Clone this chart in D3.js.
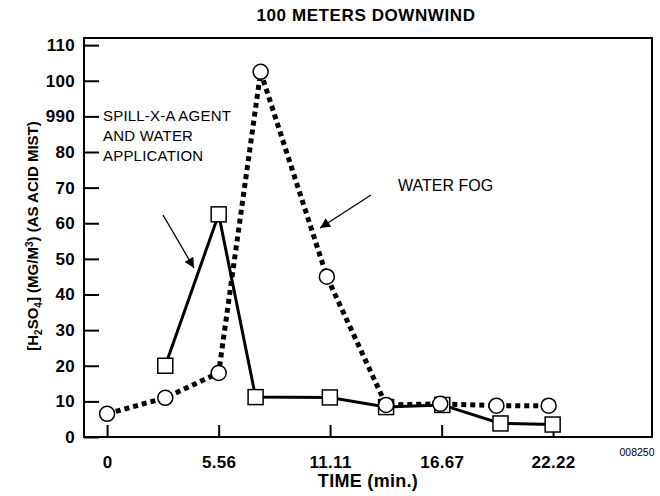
<!DOCTYPE html>
<html>
<head>
<meta charset="utf-8">
<script src="https://cdn.jsdelivr.net/npm/d3@7"></script>
<style>
  body { margin: 0; background: #fff; }
  text { font-family: "Liberation Sans", Arial, sans-serif; }
</style>
</head>
<body>
<div id="svgContainer"></div>
<script>
var width = 660,
    height = 496;

// time (min.)
var fogTimes = [0, 2.9, 5.56, 7.65, 10.95, 13.9, 16.6, 19.4, 22.0];
var fogValues = [6.5, 11, 18, 102.5, 45, 9, 9.3, 8.8, 8.8];

var spillTimes = [2.9, 5.56, 7.4, 11.1, 13.9, 16.7, 19.6, 22.2];
var spillValues = [20, 62.5, 11.2, 11.1, 8.4, 9, 3.8, 3.5];

var xTicks = [0, 5.56, 11.11, 16.67, 22.22];
var xTickLabels = ["0", "5.56", "11.11", "16.67", "22.22"];
var yTicks = [0, 10, 20, 30, 40, 50, 60, 70, 80, 90, 100, 110];
var yTickLabels = ["0", "10", "20", "30", "40", "50", "60", "70", "80", "990", "100", "110"];

var plotLeft = 84, plotRight = 652, plotTop = 38, plotBottom = 437;

var svg = d3.select("#svgContainer").append("svg")
    .attr("width", width)
    .attr("height", height)
    .style("display", "block");

var x = d3.scaleLinear().domain([-1.15, 27.15]).range([plotLeft, plotRight]);
var y = d3.scaleLinear().domain([0, 112]).range([plotBottom, plotTop]);

svg.append("defs").append("marker")
    .attr("id", "head")
    .attr("viewBox", "0 0 10 10")
    .attr("refX", 10)
    .attr("refY", 5)
    .attr("markerWidth", 12)
    .attr("markerHeight", 10)
    .attr("markerUnits", "userSpaceOnUse")
    .attr("orient", "auto")
    .append("path")
    .attr("d", "M0,0 L10,5 L0,10 Z")
    .attr("fill", "#000");

// title
svg.append("text")
    .attr("x", 366)
    .attr("y", 21)
    .attr("text-anchor", "middle")
    .attr("font-size", 17)
    .attr("font-weight", "bold")
    .attr("letter-spacing", 0.6)
    .text("100 METERS DOWNWIND");

// axes
var xAxis = svg.append("g")
    .attr("transform", "translate(0," + plotBottom + ")")
    .call(d3.axisBottom(x)
        .tickValues(xTicks)
        .tickFormat((d, i) => xTickLabels[i])
        .tickSizeInner(-12)
        .tickSizeOuter(0)
        .tickPadding(19));

var yAxis = svg.append("g")
    .attr("transform", "translate(" + plotLeft + ",0)")
    .call(d3.axisLeft(y)
        .tickValues(yTicks)
        .tickFormat((d, i) => yTickLabels[i])
        .tickSizeInner(-15)
        .tickSizeOuter(0)
        .tickPadding(9));

[xAxis, yAxis].forEach(a => {
    a.select(".domain").remove();
    a.selectAll("line").attr("stroke", "#000").attr("stroke-width", 2);
    a.selectAll("text")
        .attr("fill", "#000")
        .attr("font-size", 17)
        .attr("font-weight", "bold")
        .attr("letter-spacing", 0.3)
        .style("font-family", "'Liberation Sans', Arial, sans-serif");
});

svg.append("rect")
    .attr("x", plotLeft)
    .attr("y", plotTop)
    .attr("width", plotRight - plotLeft)
    .attr("height", plotBottom - plotTop)
    .attr("fill", "none")
    .attr("stroke", "#000")
    .attr("stroke-width", 2);

// axis titles
svg.append("text")
    .attr("x", 368)
    .attr("y", 487)
    .attr("text-anchor", "middle")
    .attr("font-size", 18)
    .attr("font-weight", "bold")
    .attr("letter-spacing", 0.3)
    .text("TIME (min.)");

var yl = svg.append("text")
    .attr("transform", "translate(38,236) rotate(-90)")
    .attr("text-anchor", "middle")
    .attr("font-size", 15)
    .attr("font-weight", "bold");
yl.append("tspan").text("[H");
yl.append("tspan").attr("font-size", 10).attr("dy", 4).text("2");
yl.append("tspan").attr("dy", -4).text("SO");
yl.append("tspan").attr("font-size", 10).attr("dy", 4).text("4");
yl.append("tspan").attr("dy", -4).text("] (MG/M");
yl.append("tspan").attr("font-size", 10).attr("dy", -5).text("3");
yl.append("tspan").attr("dy", 5).text(") (AS ACID MIST)");

svg.append("text")
    .attr("x", 637)
    .attr("y", 456)
    .attr("text-anchor", "middle")
    .attr("font-size", 10.5)
    .text("008250");

// series
var fog = fogTimes.map((t, i) => ({ t: t, v: fogValues[i] }));
var spill = spillTimes.map((t, i) => ({ t: t, v: spillValues[i] }));

var line = d3.line().x(d => x(d.t)).y(d => y(d.v));

svg.append("path")
    .datum(fog)
    .attr("d", line)
    .attr("fill", "none")
    .attr("stroke", "#000")
    .attr("stroke-width", 5)
    .attr("stroke-dasharray", "5,4");

svg.append("path")
    .datum(spill)
    .attr("d", line)
    .attr("fill", "none")
    .attr("stroke", "#000")
    .attr("stroke-width", 3);

svg.append("g")
    .selectAll("rect")
    .data(spill)
    .enter().append("rect")
    .attr("x", d => x(d.t) - 7.5)
    .attr("y", d => y(d.v) - 7.5)
    .attr("width", 15)
    .attr("height", 15)
    .attr("fill", "#fff")
    .attr("stroke", "#000")
    .attr("stroke-width", 1.5);

svg.append("g")
    .selectAll("circle")
    .data(fog)
    .enter().append("circle")
    .attr("cx", d => x(d.t))
    .attr("cy", d => y(d.v))
    .attr("r", 7.5)
    .attr("fill", "#fff")
    .attr("stroke", "#000")
    .attr("stroke-width", 1.5);

// annotations
var note = svg.append("text")
    .attr("font-size", 15)
    .attr("letter-spacing", 0.2);
["SPILL-X-A AGENT", "AND WATER", "APPLICATION"].forEach((s, i) => {
    note.append("tspan")
        .attr("x", 103)
        .attr("y", 121 + i * 20)
        .text(s);
});

svg.append("text")
    .attr("x", 398)
    .attr("y", 191)
    .attr("font-size", 16)
    .text("WATER FOG");

svg.append("line")
    .attr("x1", 163).attr("y1", 215)
    .attr("x2", 194).attr("y2", 268)
    .attr("stroke", "#000")
    .attr("stroke-width", 1.3)
    .attr("marker-end", "url(#head)");

svg.append("line")
    .attr("x1", 371).attr("y1", 195)
    .attr("x2", 320).attr("y2", 228)
    .attr("stroke", "#000")
    .attr("stroke-width", 1.3)
    .attr("marker-end", "url(#head)");
</script>
</body>
</html>
